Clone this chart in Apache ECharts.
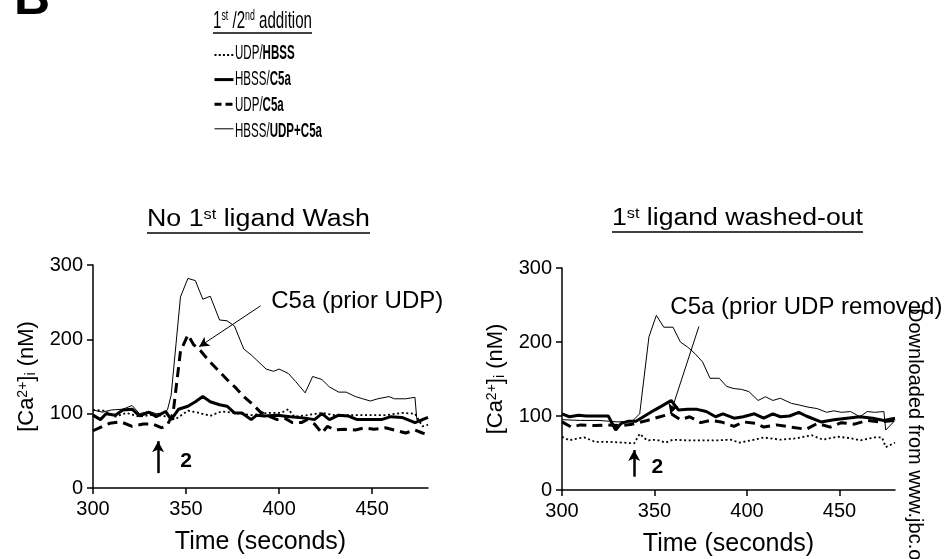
<!DOCTYPE html>
<html><head><meta charset="utf-8">
<script src="https://cdn.jsdelivr.net/npm/echarts@6/dist/echarts.min.js"></script>
<style>html,body{margin:0;padding:0;background:#fff}#c{width:945px;height:559px}</style>
</head><body><div id="c"></div>
<script>
// ---- data ----
const seriesNames = ['UDP/HBSS', 'HBSS/C5a', 'UDP/C5a', 'HBSS/UDP+C5a'];
const xTicks = [300, 350, 400, 450];
const yTicks = [0, 100, 200, 300];
const panelTitles = ['No 1st ligand Wash', '1st ligand washed-out'];

// Left panel: No 1st ligand wash  [time (s), [Ca2+]i (nM)]
const leftUdpHbss = [[300,105],[306,104],[312,96],[318,101],[325,96],[333,99],[340,96],[344,92],[351,104],[357,101],[363,97],[369,103],[376,101],[385,98],[394,101],[401,101],[405,106],[408,96],[415,98],[423,101],[430,98],[439,98],[448,98],[457,98],[466,101],[473,100],[477,83],[480,85]];
const leftHbssC5a = [[300,98],[304,92],[307,100],[312,98],[316,105],[321,106],[325,97],[330,102],[334,96],[339,103],[342,92],[346,106],[351,110],[355,116],[359,123],[363,116],[368,112],[372,110],[376,101],[380,101],[385,92],[388,98],[392,97],[399,98],[406,96],[414,94],[419,92],[423,100],[427,92],[432,98],[437,97],[442,92],[448,92],[455,92],[460,96],[466,95],[473,88],[477,92],[480,95]];
const leftUdpC5a = [[300,77],[306,84],[309,87],[315,89],[321,83],[327,86],[332,86],[337,81],[340,85],[343,100],[347,184],[351,206],[354,193],[358,184],[362,172],[367,159],[372,146],[377,134],[381,123],[386,112],[390,102],[395,96],[399,92],[403,94],[407,88],[412,88],[415,92],[419,86],[423,74],[426,83],[430,78],[435,79],[441,78],[446,81],[451,79],[457,81],[462,78],[468,74],[473,78],[477,74],[480,72]];
const leftHbssUdpC5a = [[300,105],[305,102],[310,105],[316,106],[321,111],[325,100],[330,103],[334,100],[338,101],[340,105],[342,125],[347,257],[351,282],[355,279],[359,254],[363,258],[368,226],[372,225],[376,218],[381,187],[385,179],[388,172],[393,160],[397,157],[400,160],[405,154],[409,143],[414,128],[418,150],[423,146],[427,136],[432,129],[436,129],[441,123],[445,120],[449,117],[453,120],[459,123],[462,120],[468,120],[473,122],[474,92],[477,90]];

// Right panel: 1st ligand washed-out
const rightUdpHbss = [[300,72],[304,67],[309,70],[312,71],[318,65],[326,65],[333,64],[339,63],[342,76],[346,67],[351,68],[356,64],[360,68],[368,67],[375,67],[384,67],[391,68],[396,64],[402,67],[409,71],[418,68],[427,70],[435,74],[441,68],[449,72],[456,70],[461,67],[469,71],[473,71],[475,58],[480,64]];
const rightHbssC5a = [[300,103],[304,99],[309,101],[313,100],[320,100],[325,100],[329,81],[332,90],[336,93],[340,93],[344,99],[350,108],[355,115],[359,121],[363,108],[368,109],[373,109],[378,106],[383,99],[387,103],[393,97],[398,99],[404,103],[409,97],[414,103],[418,99],[423,100],[428,105],[432,100],[440,92],[447,95],[454,97],[461,99],[468,97],[474,94],[480,97]];
const rightUdpC5a = [[300,92],[305,85],[310,88],[318,87],[325,88],[332,87],[338,89],[346,94],[353,99],[359,103],[364,95],[369,99],[375,91],[380,94],[386,92],[393,86],[398,92],[405,90],[409,85],[416,88],[424,85],[432,82],[438,90],[445,85],[451,91],[458,89],[465,94],[472,92],[480,94]];
const rightHbssUdpC5a = [[300,95],[310,94],[320,94],[330,92],[338,93],[342,103],[347,207],[351,236],[355,220],[360,220],[364,200],[368,193],[372,184],[376,173],[380,151],[385,151],[389,140],[393,137],[397,136],[401,133],[406,121],[410,126],[414,121],[418,124],[424,117],[428,115],[433,112],[438,110],[443,105],[447,107],[451,105],[456,106],[461,99],[465,106],[469,105],[474,106],[475,81],[480,94]];

// annotations (data coordinates)
const leftAddArrow = [[335,20],[335,63]];
const leftAddLabel = [350,36];
const leftC5aArrow = [[390,245],[357,190]];
const leftC5aLabel = [395.5,251];
const rightAddArrow = [[339,18],[339,54]];
const rightAddLabel = [351.5,31];
const rightC5aArrow = [[374,221],[358.6,103]];
const rightC5aLabel = [358.3,247];
const annotTexts = ['C5a (prior UDP)', 'C5a (prior UDP removed)', '2'];

// ---- styles ----
const FONT = '"Liberation Sans", Arial, sans-serif';
const styleFor = {
  'UDP/HBSS': {width: 1.8, type: [2, 2.6], legType: [2, 2.2], z: 3},
  'HBSS/C5a': {width: 3, type: 'solid', legType: 'solid', z: 5},
  'UDP/C5a': {width: 3, type: [10, 6], legType: [7, 4], z: 4},
  'HBSS/UDP+C5a': {width: 1, type: 'solid', legType: 'solid', z: 2}
};
const legendParts = {
  'UDP/HBSS': ['UDP/', 'HBSS'],
  'HBSS/C5a': ['HBSS/', 'C5a'],
  'UDP/C5a': ['UDP/', 'C5a'],
  'HBSS/UDP+C5a': ['HBSS/', 'UDP+C5a']
};

const canvas = document.createElement('canvas');
const ctx = canvas.getContext('2d');
function measureParts(parts) {
  let w = 0;
  parts.forEach(p => { ctx.font = (p.bold ? 'bold ' : '') + p.size + 'px ' + FONT; w += ctx.measureText(p.t).width; });
  return w;
}

const chart = echarts.init(document.getElementById('c'), null, {renderer: 'canvas'});

function axisX(gi) {
  return {
    type: 'value', gridIndex: gi, min: 300, max: 480,
    name: 'Time (seconds)', nameLocation: 'middle', nameGap: 42,
    nameTextStyle: {fontSize: 25, color: '#000', fontFamily: FONT},
    axisLine: {show: true, lineStyle: {color: '#000', width: 1.5}},
    axisTick: {show: true, inside: false, length: 6, lineStyle: {color: '#000', width: 1.5}, customValues: xTicks},
    axisLabel: {color: '#000', fontSize: 20, margin: 11, fontFamily: FONT, customValues: xTicks},
    splitLine: {show: false}
  };
}
function axisY(gi) {
  return {
    type: 'value', gridIndex: gi, min: 0, max: 300, interval: 100,
    name: '{n|[Ca}{sup|2+}{n|]}{sub|i}{n| (nM)}', nameLocation: 'middle', nameGap: 55,
    nameTextStyle: {color: '#000', fontFamily: FONT, fontSize: 22,
      rich: {n: {fontSize: 22, fontFamily: FONT, color: '#000'},
             sup: {fontSize: 14, fontFamily: FONT, color: '#000', verticalAlign: 'top'},
             sub: {fontSize: 14, fontFamily: FONT, color: '#000', verticalAlign: 'bottom'}}},
    axisLine: {show: true, lineStyle: {color: '#000', width: 1.5}},
    axisTick: {show: true, inside: false, length: 6, lineStyle: {color: '#000', width: 1.5}},
    axisLabel: {color: '#000', fontSize: 20, margin: 10, fontFamily: FONT},
    splitLine: {show: false}
  };
}

function lineSeries(name, gi, data, extra) {
  const st = styleFor[name];
  return Object.assign({
    name: name, type: 'line', xAxisIndex: gi, yAxisIndex: gi, data: data,
    showSymbol: false, symbol: 'none', smooth: false, z: st.z,
    color: '#000',
    lineStyle: {color: '#000', width: st.width, type: st.type},
    emphasis: {disabled: true}, animation: false
  }, extra || {});
}

function annot(addArrow, addLabel, c5aArrow, c5aLabel, c5aText) {
  return {
    markLine: {
      silent: true, animation: false, symbol: ['none', 'arrow'], symbolSize: 10,
      label: {show: false}, emphasis: {disabled: true},
      data: [
        [{coord: addArrow[0], symbol: 'none', lineStyle: {color: '#000', width: 2.5, type: 'solid'}},
         {coord: addArrow[1], symbol: 'arrow', symbolSize: [9, 11]}],
        [{coord: c5aArrow[0], symbol: 'none', lineStyle: {color: '#000', width: 1, type: 'solid'}},
         {coord: c5aArrow[1], symbol: 'arrow', symbolSize: [8, 10]}]
      ]
    },
    markPoint: {
      silent: true, animation: false, symbol: 'circle', symbolSize: 1,
      itemStyle: {color: 'rgba(0,0,0,0)'},
      data: [
        {coord: c5aLabel, label: {show: true, formatter: c5aText, position: 'right', distance: 0,
          color: '#000', fontSize: 24, fontFamily: FONT}},
        {coord: addLabel, label: {show: true, formatter: annotTexts[2], position: 'inside',
          color: '#000', fontSize: 21, fontWeight: 'bold', fontFamily: FONT}}
      ]
    }
  };
}

// titles with superscript, fitted to width
function titleGraphic(cx, cy, title, targetW, uy, ux0, ux1) {
  const m = title.match(/^(.*?1)(st)(.*)$/);
  const parts = [{t: m[1], size: 23}, {t: m[2], size: 14}, {t: m[3], size: 23}];
  const w = measureParts(parts);
  return [
    {type: 'text', x: cx, y: cy, scaleX: targetW / w, silent: true,
     style: {text: '{a|' + m[1] + '}{s|' + m[2] + '}{a|' + m[3] + '}',
             rich: {a: {fontSize: 23, fontFamily: FONT, fill: '#000'},
                    s: {fontSize: 14, fontFamily: FONT, fill: '#000', verticalAlign: 'top'}},
             align: 'center', verticalAlign: 'middle', fill: '#000'}},
    {type: 'line', silent: true, shape: {x1: ux0, y1: uy, x2: ux1, y2: uy}, style: {stroke: '#000', lineWidth: 1.5}}
  ];
}

const LT_FS = 24, LT_SS = 14;
const legParts = [{t: '1', size: LT_FS}, {t: 'st', size: LT_SS}, {t: ' /2', size: LT_FS}, {t: 'nd', size: LT_SS}, {t: ' addition', size: LT_FS}];
const legW = measureParts(legParts);

// legend entry texts (condensed as in the original)
const LEG_FS = 20;
const longestW = measureParts([{t: 'HBSS/', size: LEG_FS}, {t: 'UDP+C5a', size: LEG_FS, bold: true}]);
const legScale = 87 / longestW;
const legRowY = [53, 79.5, 105, 131];
const legendTexts = seriesNames.map((n, i) => ({
  type: 'text', x: 235, y: legRowY[i], scaleX: legScale, silent: true,
  style: {text: '{n|' + legendParts[n][0] + '}{b|' + legendParts[n][1] + '}',
          rich: {n: {fontSize: LEG_FS, fontFamily: FONT, fill: '#000'},
                 b: {fontSize: LEG_FS, fontFamily: FONT, fontWeight: 'bold', fill: '#000'}},
          align: 'left', verticalAlign: 'middle', fill: '#000'}
}));

const graphics = [].concat(
  [{type: 'text', x: 14, y: 0, silent: true,
    style: {text: 'B', font: 'bold 50px ' + FONT, fill: '#000', align: 'left', verticalAlign: 'middle'}}],
  [{type: 'text', x: 213, y: 21, scaleX: 99 / legW, silent: true,
    style: {text: '{a|1}{s|st}{a| /2}{s|nd}{a| addition}',
            rich: {a: {fontSize: LT_FS, fontFamily: FONT, fill: '#000'},
                   s: {fontSize: LT_SS, fontFamily: FONT, fill: '#000', verticalAlign: 'top'}},
            align: 'left', verticalAlign: 'middle', fill: '#000'}},
   {type: 'line', silent: true, shape: {x1: 213, y1: 33, x2: 312, y2: 33}, style: {stroke: '#000', lineWidth: 1.5}}],
  legendTexts,
  titleGraphic(258.5, 220, panelTitles[0], 223, 233, 147, 370),
  titleGraphic(737.5, 219, panelTitles[1], 251, 232, 612, 863),
  [{type: 'text', x: 915, y: 308, rotation: -Math.PI / 2, silent: true, z: 100,
    style: {text: 'Downloaded from www.jbc.org by guest', font: '20px ' + FONT, fill: '#000',
            align: 'left', verticalAlign: 'middle'}}]
);

const option = {
  backgroundColor: '#fff',
  animation: false,
  textStyle: {fontFamily: FONT, color: '#000'},
  grid: [
    {left: 93, top: 265, width: 335, height: 223, containLabel: false},
    {left: 562, top: 268, width: 333, height: 222, containLabel: false}
  ],
  xAxis: [axisX(0), axisX(1)],
  yAxis: [axisY(0), axisY(1)],
  legend: {
    orient: 'vertical', left: 213, top: 48, padding: 0, itemWidth: 19, itemHeight: 14, itemGap: 12,
    selectedMode: false,
    data: seriesNames.map(n => ({name: n,
      lineStyle: {width: styleFor[n].width, type: styleFor[n].legType, color: '#000'},
      itemStyle: {color: 'rgba(0,0,0,0)', borderColor: 'rgba(0,0,0,0)', borderWidth: 0}})),
    formatter: () => '',
    textStyle: {color: '#000', fontSize: 14, fontFamily: FONT}
  },
  series: [
    lineSeries('UDP/HBSS', 0, leftUdpHbss),
    lineSeries('HBSS/C5a', 0, leftHbssC5a),
    lineSeries('UDP/C5a', 0, leftUdpC5a, annot(leftAddArrow, leftAddLabel, leftC5aArrow, leftC5aLabel, annotTexts[0])),
    lineSeries('HBSS/UDP+C5a', 0, leftHbssUdpC5a),
    lineSeries('UDP/HBSS', 1, rightUdpHbss),
    lineSeries('HBSS/C5a', 1, rightHbssC5a),
    lineSeries('UDP/C5a', 1, rightUdpC5a, annot(rightAddArrow, rightAddLabel, rightC5aArrow, rightC5aLabel, annotTexts[1])),
    lineSeries('HBSS/UDP+C5a', 1, rightHbssUdpC5a)
  ],
  graphic: graphics
};
chart.setOption(option);
</script>
</body></html>
